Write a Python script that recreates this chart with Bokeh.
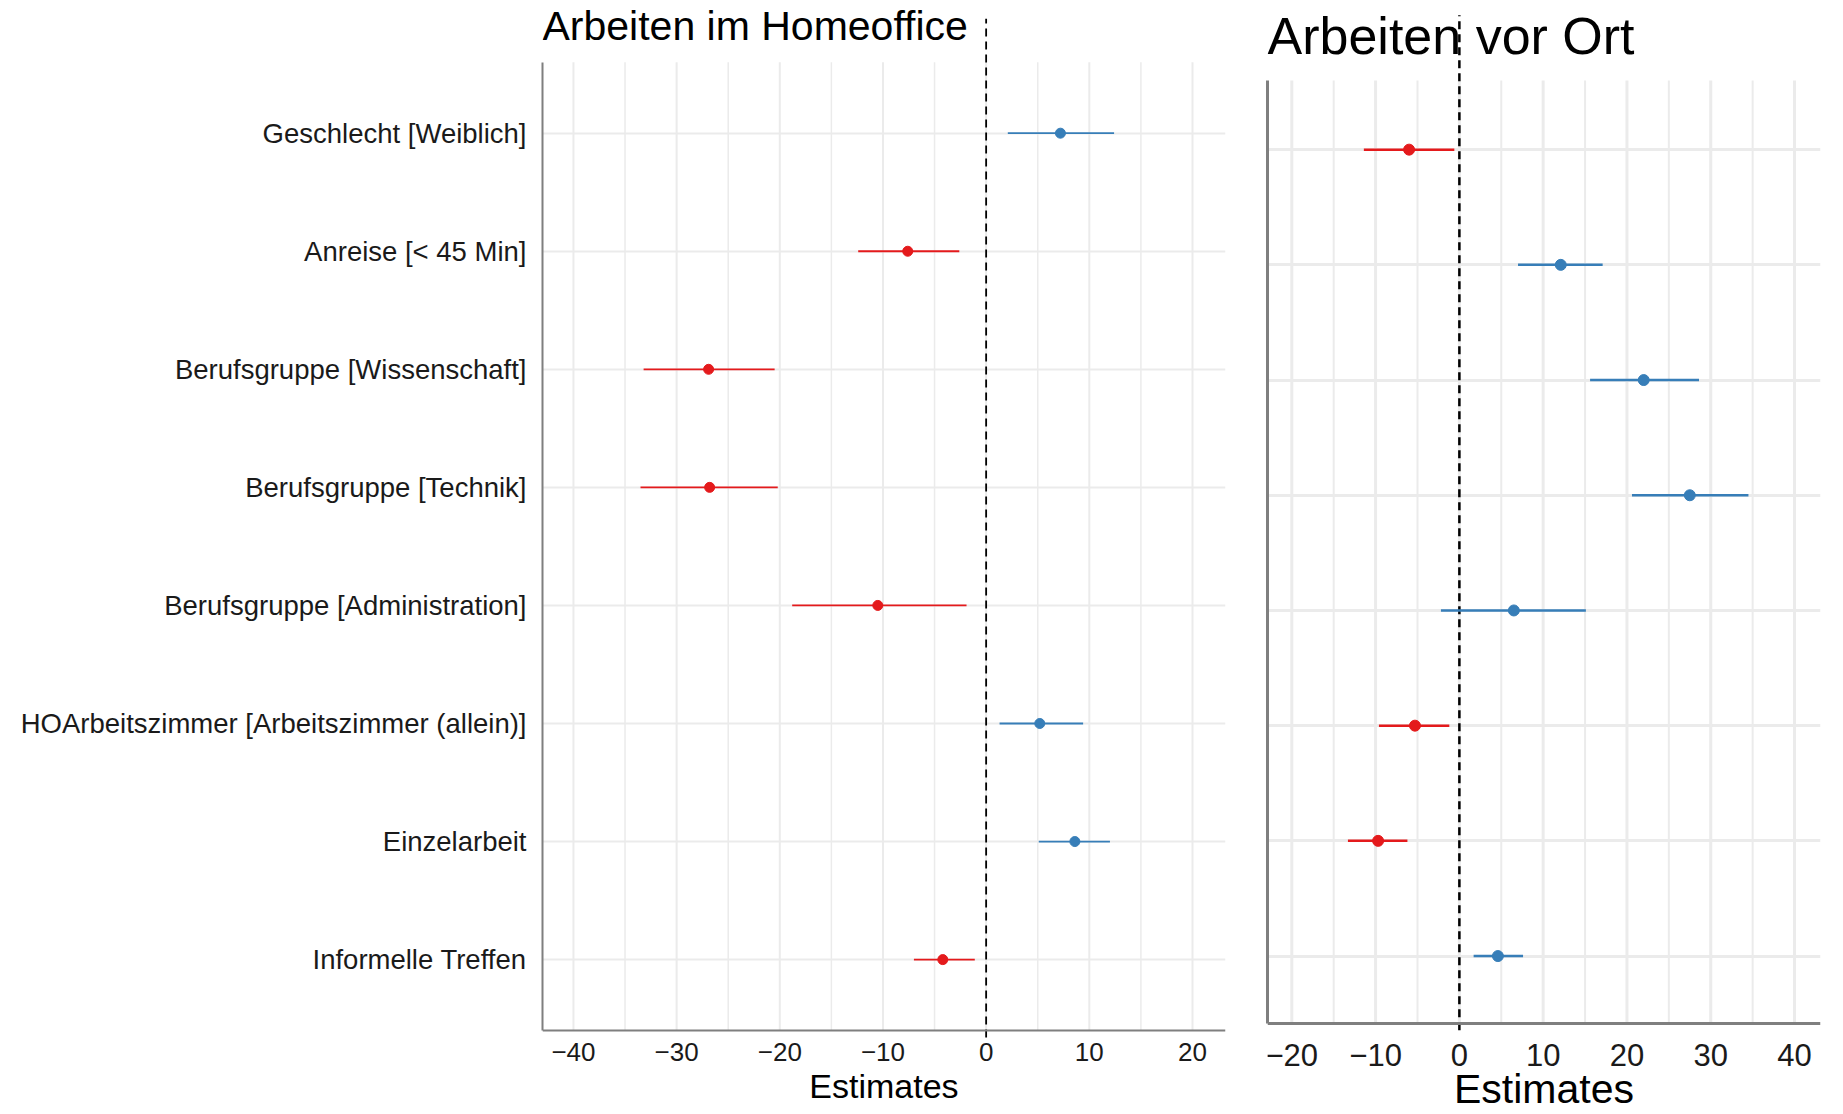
from bokeh.plotting import figure
from bokeh.layouts import row
from bokeh.models import Range1d, FixedTicker, Label, LinearAxis
from bokeh.embed import file_html
from bokeh.resources import INLINE

# ---------------- data ----------------
terms = [
    "Geschlecht [Weiblich]",
    "Anreise [< 45 Min]",
    "Berufsgruppe [Wissenschaft]",
    "Berufsgruppe [Technik]",
    "Berufsgruppe [Administration]",
    "HOArbeitszimmer [Arbeitszimmer (allein)]",
    "Einzelarbeit",
    "Informelle Treffen",
]

ho_est = [7.2, -7.6, -26.9, -26.8, -10.5, 5.2, 8.6, -4.2]
ho_low = [2.1, -12.4, -33.2, -33.5, -18.8, 1.3, 5.1, -7.0]
ho_high = [12.4, -2.6, -20.5, -20.2, -1.9, 9.4, 12.0, -1.1]

ort_est = [-6.0, 12.1, 22.0, 27.5, 6.5, -5.3, -9.7, 4.6]
ort_low = [-11.4, 7.0, 15.6, 20.6, -2.2, -9.6, -13.3, 1.7]
ort_high = [-0.6, 17.1, 28.6, 34.5, 15.1, -1.2, -6.2, 7.6]

ho_major = [-40, -30, -20, -10, 0, 10, 20]
ho_minor = [-35, -25, -15, -5, 5, 15]
ort_major = [-20, -10, 0, 10, 20, 30, 40]
ort_minor = [-15, -5, 5, 15, 25, 35]

titles = ["Arbeiten im Homeoffice", "Arbeiten vor Ort"]
x_title = "Estimates"

RED = "#e41a1c"
BLUE = "#377eb8"
GRID = "#ebebeb"
FONT = "Liberation Sans"

n = len(terms)
ypos = [n - i for i in range(n)]
Y_HI = n + 0.6


def fmt(v):
    return str(v).replace("-", "\u2212")


def panel(title, est, low, high, xr, yr, ylo, major, minor, width, show_labels, s):
    p = figure(width=width, height=1112, output_backend="svg", toolbar_location=None,
               x_range=Range1d(*xr), y_range=Range1d(*yr), x_axis_location=None,
               min_border_top=4, min_border_bottom=0,
               min_border_left=s["mbl"], min_border_right=s["mbr"])
    p.outline_line_color = None
    p.background_fill_color = "white"
    p.border_fill_color = "white"

    # vertical grid lines (within the plotting panel only)
    p.xgrid.grid_line_color = None
    p.segment(x0=minor, x1=minor, y0=[ylo] * len(minor), y1=[Y_HI] * len(minor),
              line_color=GRID, line_width=s["gminor"])
    p.segment(x0=major, x1=major, y0=[ylo] * len(major), y1=[Y_HI] * len(major),
              line_color=GRID, line_width=s["gmajor"])
    p.ygrid.ticker = FixedTicker(ticks=ypos)
    p.ygrid.grid_line_color = GRID
    p.ygrid.grid_line_width = s["gh"]

    # reference line at zero (reaches up into the title area)
    p.segment(x0=[0], x1=[0], y0=[ylo - 0.06], y1=[s["dtop"]], line_color="black",
              line_dash="8 5", line_width=s["dash"])

    cols = [BLUE if e > 0 else RED for e in est]
    p.segment(x0=low, x1=high, y0=ypos, y1=ypos, line_color=cols, line_width=s["lw"])
    p.scatter(x=est, y=ypos, size=s["pt"], fill_color=cols, line_color=cols)

    # x axis, fixed at the bottom of the plotting panel
    xa = LinearAxis(fixed_location=ylo)
    xa.ticker = FixedTicker(ticks=major)
    xa.major_label_overrides = {v: fmt(v) for v in major}
    xa.axis_label = x_title
    xa.axis_label_text_font = FONT
    xa.axis_label_text_font_style = "normal"
    xa.axis_label_text_font_size = s["xlab"]
    xa.axis_label_text_color = "black"
    xa.axis_label_standoff = s["xlabso"]
    xa.major_label_text_font = FONT
    xa.major_label_text_font_size = s["xtick"]
    xa.major_label_text_color = "#1a1a1a"
    xa.major_label_standoff = s["xtickso"]
    xa.major_tick_out = 0
    xa.minor_tick_out = 0
    xa.major_tick_line_color = None
    xa.minor_tick_line_color = None
    xa.axis_line_color = "#7f7f7f"
    xa.axis_line_width = s["axw"]
    p.add_layout(xa, "below")

    ya = p.yaxis[0]
    ya.ticker = FixedTicker(ticks=ypos)
    ya.bounds = (ylo, Y_HI)
    ya.major_tick_out = 0
    ya.minor_tick_out = 0
    ya.major_tick_line_color = None
    ya.minor_tick_line_color = None
    ya.axis_line_color = "#7f7f7f"
    ya.axis_line_width = s["axw"]
    if show_labels:
        ya.major_label_overrides = {y: t for y, t in zip(ypos, terms)}
        ya.major_label_text_font = FONT
        ya.major_label_text_font_size = "27.5px"
        ya.major_label_text_color = "#1a1a1a"
        ya.major_label_standoff = 16
    else:
        ya.major_label_overrides = {y: "" for y in ypos}
        ya.major_label_text_font_size = "0px"
        ya.major_label_standoff = 0

    p.add_layout(Label(x=xr[0], y=s["ty"], text=title, text_font=FONT,
                       text_font_size=s["tsize"], text_baseline="middle",
                       text_align="left", text_color="black"))
    return p


left = panel(titles[0], ho_est, ho_low, ho_high, (-43.0, 23.2), (-0.295, 9.09), 0.4,
             ho_major, ho_minor, 1240, True,
             dict(mbl=542, mbr=15, gminor=1.5, gmajor=2, gh=2, dash=1.8,
                  lw=1.8, pt=10, xlab="34px", xlabso=2, xtick="26px", xtickso=13,
                  axw=2, ty=8.905, tsize="41px", dtop=8.97))
right = panel(titles[1], ort_est, ort_low, ort_high, (-22.9, 43.1), (-0.358, 9.26), 0.415,
              ort_major, ort_minor, 600, False,
              dict(mbl=27, mbr=20, gminor=2, gmajor=3, gh=3, dash=2.5,
                   lw=2.5, pt=11, xlab="41px", xlabso=-4, xtick="31px", xtickso=21,
                   axw=3, ty=8.99, tsize="52px", dtop=9.166))

layout = row(left, right)
open("out.html", "w").write(file_html(layout, INLINE))
